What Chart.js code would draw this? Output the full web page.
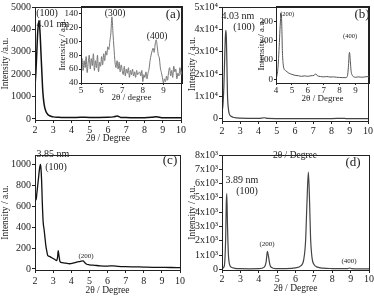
<!DOCTYPE html>
<html>
<head>
<meta charset="utf-8">
<script src="https://cdn.jsdelivr.net/npm/chart.js@4.4.0/dist/chart.umd.min.js"></script>
<style>
html, body { margin: 0; padding: 0; background: #fff; overflow: hidden; }
body { position: relative; width: 374px; height: 296px; }
canvas { position: absolute; }
</style>
</head>
<body>
<canvas id="pa" style="left:0px;top:0px" width="187" height="148"></canvas>
<canvas id="pb" style="left:187px;top:0px" width="187" height="165"></canvas>
<canvas id="pc" style="left:0px;top:148px" width="187" height="148"></canvas>
<canvas id="pd" style="left:187px;top:148px" width="187" height="148"></canvas>
<canvas id="ia" style="left:55px;top:0px" width="132" height="105"></canvas>
<canvas id="ib" style="left:254px;top:0px" width="120" height="106"></canvas>
<script>
// tick labels
const mainXTicks = [2, 3, 4, 5, 6, 7, 8, 9, 10];
const aYTicks = [0, 1000, 2000, 3000, 4000, 5000];
const aInXTicks = [5, 6, 7, 8, 9];
const aInYTicks = [40, 60, 80, 100, 120, 140];
const bYTicks = [0, 10000, 20000, 30000, 40000, 50000];
const bInXTicks = [4, 5, 6, 7, 8, 9];
const bInYTicks = [0, 100, 200, 300];
const cYTicks = [0, 200, 400, 600, 800, 1000];
const dYTicks = [0, 1000, 2000, 3000, 4000, 5000, 6000, 7000, 8000];

// (a) main
const aX = [2.0, 2.05, 2.1, 2.15, 2.22, 2.28, 2.33, 2.38, 2.43, 2.5, 2.6, 2.7, 2.8, 2.9, 3.0, 3.3, 3.6, 4.0, 4.5, 5.0, 5.5, 6.0, 6.3, 6.5, 6.7, 7.0, 7.5, 8.0, 8.4, 8.65, 8.9, 9.0, 9.5, 10.0];
const aY = [1450, 2100, 3000, 3900, 4400, 3800, 2900, 2000, 1200, 650, 330, 200, 140, 110, 90, 75, 65, 60, 70, 65, 65, 70, 90, 130, 65, 60, 50, 50, 70, 100, 60, 45, 50, 50];

// (a) inset, 5 - 9.9
const aInX = [5.00, 5.05, 5.10, 5.15, 5.20, 5.25, 5.30, 5.35, 5.40, 5.45, 5.50, 5.55, 5.60, 5.65, 5.70, 5.75, 5.80, 5.85, 5.90, 5.95,
  6.00, 6.05, 6.10, 6.15, 6.20, 6.25, 6.30, 6.35, 6.40, 6.45, 6.50, 6.55, 6.60, 6.65, 6.70, 6.75, 6.80, 6.85, 6.90, 6.95,
  7.00, 7.05, 7.10, 7.15, 7.20, 7.25, 7.30, 7.35, 7.40, 7.45, 7.50, 7.55, 7.60, 7.65, 7.70, 7.75, 7.80, 7.85, 7.90, 7.95,
  8.00, 8.05, 8.10, 8.15, 8.20, 8.25, 8.30, 8.35, 8.40, 8.45, 8.50, 8.55, 8.60, 8.65, 8.70, 8.75, 8.80, 8.85, 8.90, 8.95,
  9.00, 9.05, 9.10, 9.15, 9.20, 9.25, 9.30, 9.35, 9.40, 9.45, 9.50, 9.55, 9.60, 9.65, 9.70, 9.75, 9.80, 9.85, 9.90];
const aInY = [68, 75, 58, 72, 62, 78, 55, 70, 80, 60, 75, 65, 82, 58, 72, 62, 80, 56, 70, 64,
  78, 66, 82, 72, 86, 80, 92, 88, 100, 112, 135, 112, 90, 70, 62, 72, 60, 70, 56, 66,
  58, 52, 64, 50, 60, 54, 62, 48, 58, 52, 60, 50, 56, 48, 58, 52, 54, 56, 50, 58,
  42, 52, 48, 56, 46, 54, 60, 72, 80, 86, 90, 84, 96, 102, 92, 80, 76, 62, 55, 48,
  40, 46, 42, 50, 44, 56, 62, 50, 58, 48, 64, 56, 60, 46, 54, 50, 62, 52, 58];

// (b) main
const bX = [2.0, 2.05, 2.1, 2.15, 2.18, 2.21, 2.24, 2.27, 2.3, 2.35, 2.4, 2.5, 2.6, 2.8, 3.0, 3.5, 4.0, 4.33, 4.5, 5.0, 6.0, 6.5, 7.0, 8.0, 8.62, 8.8, 9.0, 10.0];
const bY = [3000, 6000, 14000, 28000, 36000, 39500, 36000, 24000, 11000, 4500, 2200, 1100, 700, 400, 300, 200, 150, 450, 150, 100, 80, 100, 70, 60, 200, 80, 70, 60];

// (b) inset
const bInX = [4.0, 4.05, 4.1, 4.15, 4.2, 4.25, 4.3, 4.33, 4.37, 4.4, 4.45, 4.5, 4.6, 4.7, 4.8, 4.9, 5.0, 5.2, 5.4, 5.6, 5.8, 6.0, 6.2, 6.4, 6.5, 6.6, 6.8, 7.0, 7.2, 7.4, 7.6, 7.8, 8.0, 8.2, 8.4, 8.5, 8.55, 8.62, 8.68, 8.72, 8.8, 8.9, 9.0, 9.2, 9.4, 9.6, 9.85];
const bInY = [5, 15, 40, 90, 170, 260, 330, 345, 260, 150, 80, 55, 45, 38, 32, 28, 25, 20, 18, 15, 17, 15, 18, 20, 28, 18, 14, 12, 14, 11, 12, 10, 9, 8, 8, 20, 60, 140, 90, 45, 20, 12, 10, 12, 10, 12, 14];

// (c)
const cX = [2.0, 2.03, 2.06, 2.1, 2.15, 2.2, 2.25, 2.3, 2.33, 2.37, 2.4, 2.45, 2.5, 2.55, 2.6, 2.65, 2.7, 2.8, 2.9, 3.0, 3.1, 3.2, 3.25, 3.28, 3.32, 3.38, 3.5, 3.7, 3.9, 4.1, 4.3, 4.5, 4.65, 4.75, 4.85, 5.0, 5.3, 5.6, 6.0, 6.3, 6.6, 7.0, 7.5, 8.0, 8.5, 9.0, 9.5, 10.0];
const cY = [650, 680, 660, 720, 800, 880, 960, 1000, 960, 820, 650, 450, 380, 300, 220, 170, 130, 120, 110, 100, 90, 80, 120, 175, 130, 70, 60, 55, 50, 55, 65, 72, 78, 60, 45, 40, 35, 30, 28, 30, 25, 22, 20, 18, 16, 15, 14, 12];

// (d)
const dX = [2.0, 2.1, 2.15, 2.2, 2.23, 2.26, 2.3, 2.35, 2.4, 2.5, 2.7, 3.0, 3.5, 4.0, 4.3, 4.4, 4.47, 4.53, 4.6, 4.7, 4.9, 5.5, 6.0, 6.3, 6.45, 6.55, 6.62, 6.7, 6.76, 6.82, 6.9, 7.0, 7.2, 7.5, 8.0, 8.5, 8.85, 8.95, 9.05, 9.5, 10.0];
const dY = [60, 150, 500, 2200, 4500, 5300, 3000, 1000, 400, 150, 70, 40, 30, 40, 150, 500, 1250, 900, 350, 120, 50, 50, 100, 250, 700, 2000, 4500, 6800, 5000, 2200, 800, 350, 150, 80, 50, 40, 50, 90, 50, 30, 30];

const SERIF = '"Liberation Serif", "DejaVu Serif", serif';
const INK = '#222';

// box around the plot area + text labels
const frame = {
    id: 'frame',
    afterDraw(chart, args, opts) {
        const c = chart.ctx, a = chart.chartArea;
        const cv = chart.canvas;
        const ox = cv.offsetLeft, oy = cv.offsetTop;
        c.save();
        c.strokeStyle = INK;
        c.lineWidth = 1;
        c.strokeRect(Math.round(a.left) + 0.5, Math.round(a.top) + 0.5, Math.round(a.right - a.left), Math.round(a.bottom - a.top));
        c.fillStyle = INK;
        c.textAlign = 'center';
        c.textBaseline = 'middle';
        (opts.notes || []).forEach(n => {
            c.font = n.s + 'px ' + SERIF;
            c.fillText(n.t, n.x - ox, n.y - oy);
        });
        c.restore();
    }
};

function pts(xs, ys) {
    return xs.map((x, i) => ({ x: x, y: ys[i] }));
}

function fixTicks(list) {
    return s => { s.ticks = list.map(v => ({ value: v })); };
}

function plot(id, xs, ys, o) {
    return new Chart(document.getElementById(id), {
        type: 'line',
        data: {
            datasets: [{
                data: pts(xs, ys),
                borderColor: o.color,
                borderWidth: o.lw,
                pointRadius: 0,
                cubicInterpolationMode: 'monotone',
                fill: false
            }]
        },
        options: {
            responsive: false,
            animation: false,
            devicePixelRatio: 1,
            layout: { padding: { top: o.pad[0], right: o.pad[1], bottom: 0, left: 0 } },
            plugins: {
                legend: { display: false },
                tooltip: { enabled: false },
                frame: { notes: o.notes }
            },
            scales: {
                x: {
                    type: 'linear',
                    min: o.xr[0], max: o.xr[1],
                    afterBuildTicks: fixTicks(o.xticks),
                    afterFit: s => { s.height = o.xh; },
                    ticks: { autoSkip: false, maxRotation: 0, padding: o.xtp, color: INK, font: { family: SERIF, size: o.fs }, callback: v => String(v) },
                    grid: { drawOnChartArea: false, tickLength: o.tl, color: INK },
                    border: { color: INK },
                    title: { display: true, text: o.xt, color: INK, font: { family: SERIF, size: o.ts }, padding: { top: 0, bottom: o.xtb } }
                },
                y: {
                    type: 'linear',
                    min: o.yr[0], max: o.yr[1],
                    afterBuildTicks: fixTicks(o.yticks),
                    afterFit: s => { s.width = o.yw; },
                    ticks: { autoSkip: false, padding: 1, color: INK, font: { family: SERIF, size: o.fs }, callback: o.yfmt || (v => String(v)) },
                    grid: { drawOnChartArea: false, tickLength: o.tl, color: INK },
                    border: { color: INK },
                    title: { display: true, text: o.yt, color: INK, font: { family: SERIF, size: o.ts }, padding: { top: o.ytp, bottom: 0 } }
                }
            }
        },
        plugins: [frame]
    });
}

plot('pa', aX, aY, {
    color: '#111', lw: 1.5, pad: [5, 5], xr: [2, 10], yr: [-50, 5000], xticks: mainXTicks, yticks: aYTicks,
    xh: 28, yw: 35, fs: 10, ts: 9.5, tl: 3, xtp: 1, xtb: 4, ytp: 0,
    xt: '2θ / Degree', yt: 'Intensity /a.u.',
    notes: [
        { t: '(100)', x: 47, y: 13, s: 10 },
        { t: '4.01 nm', x: 53, y: 24, s: 10 },
        { t: '(a)', x: 173, y: 15, s: 13 }
    ]
});

plot('pb', bX, bY, {
    color: '#444', lw: 1.2, pad: [7, 5], xr: [2, 10], yr: [-1000, 50000], xticks: mainXTicks, yticks: bYTicks,
    xh: 44, yw: 35, fs: 10, ts: 9.5, tl: 3, xtp: 1, xtb: 4, ytp: 0,
    xt: '2θ / Degree', yt: 'Intensity / a.u.',
    yfmt: v => v === 0 ? '0' : (v / 10000) + 'x10⁴',
    notes: [
        { t: '4.03 nm', x: 238, y: 16, s: 10 },
        { t: '(100)', x: 244, y: 27, s: 10 },
        { t: '(b)', x: 362, y: 15, s: 13 }
    ]
});

plot('pc', cX, cY, {
    color: '#111', lw: 1.3, pad: [3, 4], xr: [2, 10], yr: [-10, 1090], xticks: mainXTicks, yticks: cYTicks,
    xh: 26, yw: 35, fs: 10, ts: 9.5, tl: 3, xtp: 2, xtb: 0, ytp: 0,
    xt: '2θ / Degree', yt: 'Intensity / a.u.',
    notes: [
        { t: '3.85 nm', x: 53, y: 154, s: 10 },
        { t: '(100)', x: 56, y: 167, s: 10 },
        { t: '(c)', x: 170, y: 161, s: 13 },
        { t: '(200)', x: 86, y: 256, s: 7 }
    ]
});

plot('pd', dX, dY, {
    color: '#444', lw: 1.2, pad: [2, 5], xr: [2, 10], yr: [-50, 8000], xticks: mainXTicks, yticks: dYTicks,
    xh: 26, yw: 35, fs: 10, ts: 9.5, tl: 3, xtp: 0, xtb: 2, ytp: 0,
    xt: '2θ / Degree', yt: 'Intensity / a.u.',
    yfmt: v => v === 0 ? '0' : (v / 1000) + 'x10³',
    notes: [
        { t: '3.89 nm', x: 242, y: 180, s: 10 },
        { t: '(100)', x: 247, y: 191, s: 10 },
        { t: '(d)', x: 353, y: 163, s: 13 },
        { t: '(200)', x: 267, y: 244, s: 7 },
        { t: '(400)', x: 349, y: 261, s: 7 }
    ]
});

plot('ia', aInX, aInY, {
    color: '#777', lw: 1, pad: [5, 5], xr: [5, 9.9], yr: [40, 150], xticks: aInXTicks, yticks: aInYTicks,
    xh: 22, yw: 26, fs: 9, ts: 9, tl: 2, xtp: 0, xtb: 2, ytp: 2,
    xt: '2θ / degree', yt: 'Intensity / a.u.',
    notes: [
        { t: '(300)', x: 115, y: 13, s: 9.5 },
        { t: '(400)', x: 157, y: 36, s: 9.5 }
    ]
});

plot('ib', bInX, bInY, {
    color: '#555', lw: 1, pad: [5, 5], xr: [4, 9.85], yr: [-20, 380], xticks: bInXTicks, yticks: bInYTicks,
    xh: 23, yw: 22, fs: 9, ts: 9, tl: 2, xtp: 0, xtb: 2, ytp: 2,
    xt: '2θ / Degree', yt: 'Intensity / a.u.',
    notes: [
        { t: '(200)', x: 287, y: 14, s: 6.5 },
        { t: '(400)', x: 350, y: 36, s: 6.5 }
    ]
});
</script>
</body>
</html>
